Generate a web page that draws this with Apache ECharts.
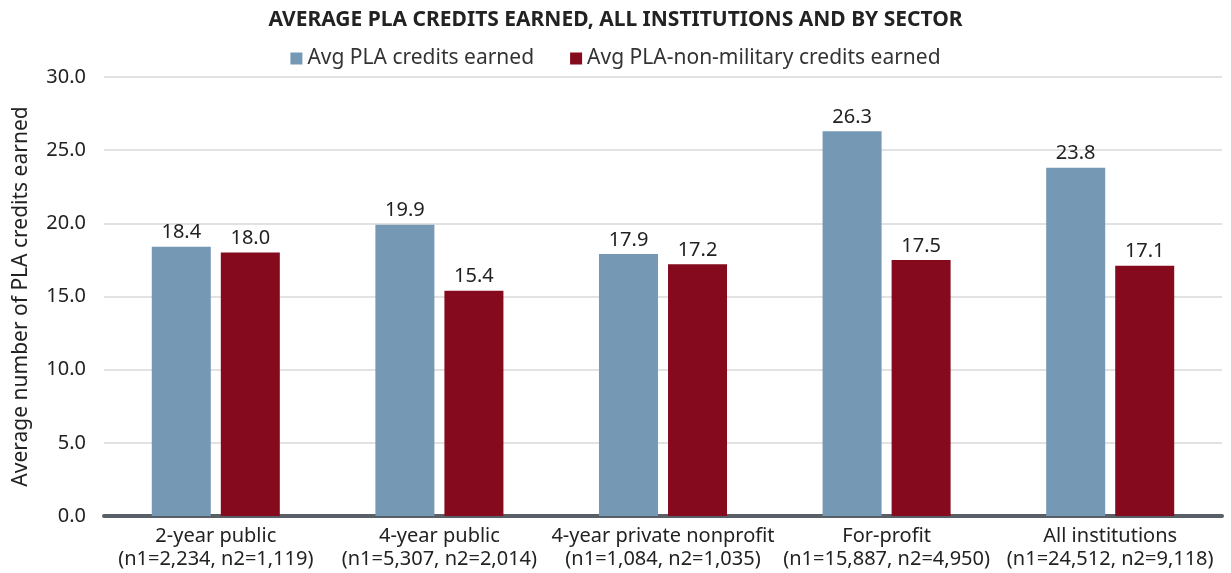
<!DOCTYPE html>
<html>
<head>
<meta charset="utf-8">
<script src="https://cdn.jsdelivr.net/npm/echarts@6/dist/echarts.min.js"></script>
<style>
  html, body { margin: 0; padding: 0; background: #fff; }
  #chart { width: 1231px; height: 573px; }
</style>
</head>
<body>
<div id="chart"></div>
<script>
// categories and values
const sectors = [
    '2-year public\n(n1=2,234, n2=1,119)',
    '4-year public\n(n1=5,307, n2=2,014)',
    '4-year private nonprofit\n(n1=1,084, n2=1,035)',
    'For-profit\n(n1=15,887, n2=4,950)',
    'All institutions\n(n1=24,512, n2=9,118)'
];
const avgPla = [18.4, 19.9, 17.9, 26.3, 23.8];
const avgPlaNonMilitary = [18.0, 15.4, 17.2, 17.5, 17.1];
const seriesNames = ['Avg PLA credits earned', 'Avg PLA-non-military credits earned'];

const FONT = '"Noto Sans", "Open Sans", sans-serif';

let myChart = echarts.init(document.getElementById('chart'));

const barLabel = {
    show: true,
    position: 'top',
    distance: 4,
    color: '#222',
    fontSize: 20,
    fontFamily: FONT,
    formatter: function (p) { return p.value.toFixed(1); }
};

myChart.setOption({
    animation: false,
    textStyle: { fontFamily: FONT },
    title: {
        text: 'AVERAGE PLA CREDITS EARNED, ALL INSTITUTIONS AND BY SECTOR',
        left: 'center',
        top: 5,
        textStyle: { fontSize: 21, fontWeight: 'bold', color: '#222', fontFamily: FONT }
    },
    legend: {
        data: seriesNames,
        top: 43,
        left: 'center',
        itemWidth: 12,
        itemHeight: 12,
        itemGap: 36,
        icon: 'rect',
        textStyle: { fontSize: 21, color: '#333', fontFamily: FONT }
    },
    grid: { left: 104, right: 9, top: 77, bottom: 57 },
    xAxis: {
        type: 'category',
        data: sectors,
        axisTick: { show: false },
        axisLine: { show: true, lineStyle: { color: '#595f66', width: 4 } },
        axisLabel: {
            color: '#222',
            fontSize: 20,
            lineHeight: 23,
            margin: 9,
            interval: 0,
            fontFamily: FONT
        }
    },
    yAxis: {
        type: 'value',
        min: 0,
        max: 30,
        interval: 5,
        name: 'Average number of PLA credits earned',
        nameLocation: 'middle',
        nameGap: 72,
        nameTextStyle: { fontSize: 21, color: '#222', fontFamily: FONT },
        axisLabel: {
            color: '#222',
            fontSize: 20,
            margin: 18,
            fontFamily: FONT,
            formatter: function (v) { return v.toFixed(1); }
        },
        splitLine: { lineStyle: { color: '#d9d9d9', width: 1.5 } },
        axisLine: { show: false },
        axisTick: { show: false }
    },
    series: [
        {
            name: seriesNames[0],
            type: 'bar',
            data: avgPla,
            barWidth: 59,
            barGap: '17%',
            itemStyle: { color: '#7598b5' },
            label: barLabel
        },
        {
            name: seriesNames[1],
            type: 'bar',
            data: avgPlaNonMilitary,
            barWidth: 59,
            barGap: '17%',
            itemStyle: { color: '#850a1e' },
            label: barLabel
        }
    ]
});
</script>
</body>
</html>
